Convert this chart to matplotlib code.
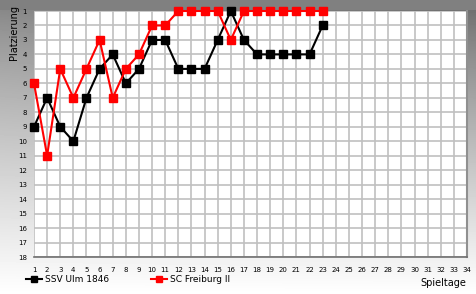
import numpy as np
from matplotlib import pyplot as plt

# Spieltage und Platzierungen
spieltage = list(range(1, 24))
platz_ulm = [9, 7, 9, 10, 7, 5, 4, 6, 5, 3, 3, 5, 5, 5, 3, 1, 3, 4, 4, 4, 4, 4, 2]
platz_freiburg = [6, 11, 5, 7, 5, 3, 7, 5, 4, 2, 2, 1, 1, 1, 1, 3, 1, 1, 1, 1, 1, 1, 1]
namen = ['SSV Ulm 1846', 'SC Freiburg II']
farben = ['#000000', '#ff0000']

fig = plt.figure(figsize=(4.77, 2.94), dpi=100)

# Hintergrund mit Verlauf
bg = fig.add_axes([0, 0, 1, 1])
yy = np.linspace(0, 1, 294)[:, None]
xx = np.linspace(0, 1, 477)[None, :]
grad = 128 + 127 * yy ** 0.8 - 25 * xx * (1 - yy)
grad[:10, :] = 128
bg.imshow(np.clip(grad, 0, 255) / 255, cmap='gray', vmin=0, vmax=1, aspect='auto',
          extent=[0, 1, 1, 0])
bg.set_xlim(0, 1)
bg.set_ylim(1, 0)
bg.axis('off')

ax = fig.add_axes([34 / 477, 1 - 257 / 294, 433 / 477, 246 / 294])
ax.set_facecolor('white')
ax.set_xlim(1, 34)
ax.set_ylim(18, 1)
ax.set_xticks(range(1, 35))
ax.set_yticks(range(1, 19))
ax.grid(True, color='#c0c0c0', linewidth=1.2)
ax.set_axisbelow(True)
ax.tick_params(length=0, labelsize=5, pad=7)
ax.tick_params(axis='y', pad=5)
for s in ['top', 'left']:
    ax.spines[s].set_visible(False)
ax.spines['bottom'].set_color('#707070')
ax.spines['bottom'].set_linewidth(1.2)
ax.spines['right'].set_color('#909090')
ax.spines['right'].set_linewidth(1.5)

ax.plot(spieltage, platz_ulm, color=farben[0], marker='s', markersize=5.5,
        linewidth=1.5, label=namen[0], clip_on=False, zorder=3)
ax.plot(spieltage, platz_freiburg, color=farben[1], marker='s', markersize=5.5,
        linewidth=1.5, label=namen[1], clip_on=False, zorder=4)

fig.text(14 / 477, 1 - 32 / 294, 'Platzierung', rotation=90, ha='center', va='center', fontsize=7)
fig.text(466 / 477, 1 - 283 / 294, 'Spieltage', ha='right', va='center', fontsize=7)

fig.legend(loc='lower left', bbox_to_anchor=(18 / 477, 0.005), ncol=2, frameon=False,
           fontsize=6.5, handlelength=1.8, handletextpad=0.3, columnspacing=4.6,
           markerscale=0.75)

fig.savefig('out.png', dpi=100)
